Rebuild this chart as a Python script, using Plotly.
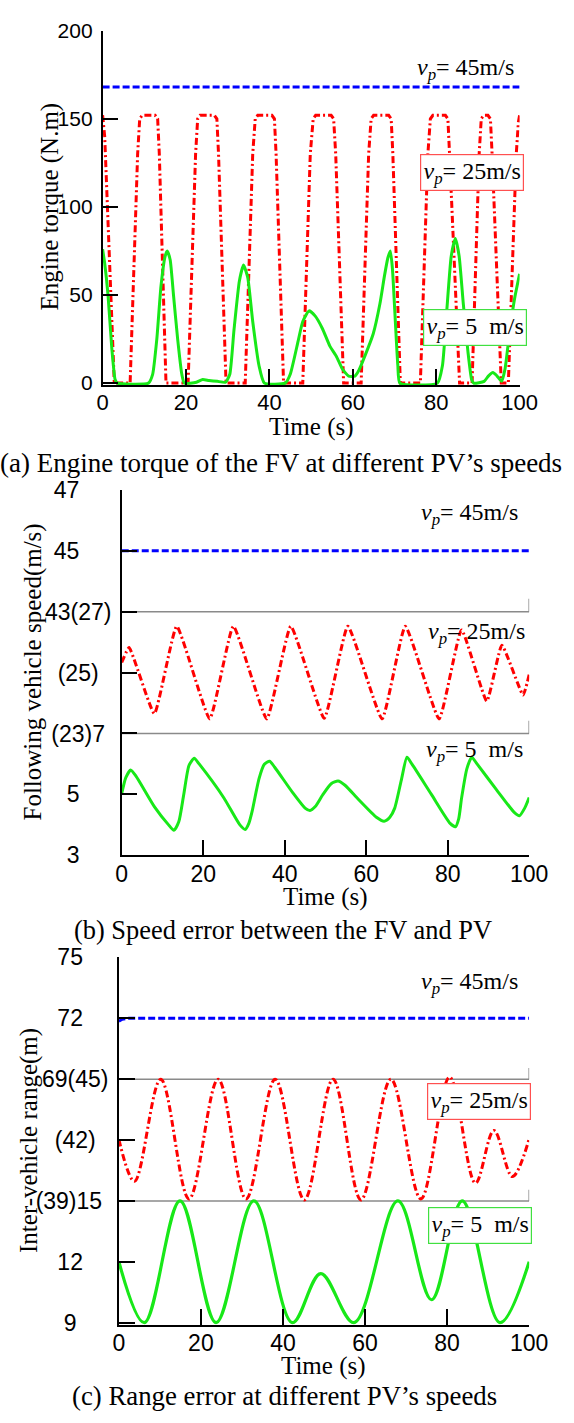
import plotly.graph_objects as go

W, H = 574, 1423

# ---------------- data ----------------
# (a) Engine torque (N.m) vs time (s)
ta_blue = [0, 100]
va_blue = [168, 168]

ta_red = [0, 0.5, 2.8, 6.6, 8.4, 8.9, 9.5, 12.6, 13.2, 13.6, 15.2,
          20.5, 22.3, 22.8, 23.4, 26.8, 27.4, 27.8, 29.6,
          34.2, 36.0, 36.6, 37.2, 40.6, 41.2, 41.6, 43.4,
          48.0, 49.8, 50.5, 51.1, 54.8, 55.4, 55.9, 57.8,
          62.0, 63.8, 64.4, 65.0, 68.6, 69.2, 69.6, 71.4,
          76.2, 78.0, 78.6, 79.2, 82.2, 82.8, 83.2, 85.6,
          88.6, 90.3, 90.8, 91.4, 92.4, 93.0, 93.4, 95.6,
          97.3, 99.2, 99.7, 100]
va_red = [152, 140, 0, 0, 130, 150, 152, 152, 150, 130, 0,
          0, 130, 150, 152, 152, 150, 130, 0,
          0, 130, 150, 152, 152, 150, 130, 0,
          0, 130, 150, 152, 152, 150, 130, 0,
          0, 130, 150, 152, 152, 150, 130, 0,
          0, 130, 150, 152, 152, 150, 130, 0,
          0, 130, 150, 152, 152, 150, 130, 0,
          0, 130, 148, 152]

ta_green = [0, 0.5, 1.3, 2.2, 3.0, 3.5, 11.0, 12.0, 13.0, 14.0, 15.0, 15.5, 16.2, 17.0, 18.0, 19.0, 19.6,
            22.5, 24.0, 25.5, 27.5, 29.5, 30.5, 31.5, 32.8, 33.8, 34.8, 36.0, 37.5, 38.8,
            43.8, 45.0, 46.9, 48.0, 49.5, 51.0, 52.7, 54.5, 56.1, 57.5, 59.0, 60.5, 61.4, 63.0,
            64.9, 66.5, 67.6, 68.4, 69.0, 69.5, 70.2, 70.8, 71.3,
            80.3, 81.5, 82.5, 83.6, 84.6, 85.5, 86.5, 87.6, 88.5, 89.0,
            91.5, 92.5, 93.6, 94.6, 95.7, 96.5, 97.6, 98.8, 100]
va_green = [76, 68, 50, 20, 2, 0, 0, 5, 25, 55, 72, 75, 70, 50, 25, 5, 0,
            0.5, 2, 1.5, 1, 0.5, 5, 30, 58, 67, 60, 35, 10, 0,
            0, 5, 24, 35, 41, 38, 31, 21, 15, 8, 4, 4, 7, 16,
            28, 45, 61, 71, 75, 65, 35, 10, 0,
            0, 10, 40, 72, 82, 72, 45, 18, 2, 0,
            1, 4, 6, 4, 1, 8, 29, 48, 62]

# (b) Following vehicle speed (m/s) vs time (s)
tb_blue = [0, 100]
vb_blue = [45, 45]

tb_red = [0, 1.8, 8.0, 13.5, 21.6, 27.4, 35.6, 41.5, 49.7, 55.5, 63.9, 69.6, 77.9, 83.4, 89.6, 93.3, 98.5, 100]
vb_red = [25.33, 25.82, 23.65, 26.52, 23.48, 26.52, 23.48, 26.52, 23.5, 26.52, 23.48, 26.52, 23.48, 26.4,
          24.06, 25.9, 24.26, 24.93]

tb_green = [0, 1.0, 2.2, 3.5, 8.0, 11.5, 12.8, 14.0, 15.2, 16.5, 17.8, 19.0, 25.0, 29.0,
            30.3, 31.2, 32.0, 33.7, 35.0, 36.3, 37.5, 42.0, 45.0, 46.2, 47.5, 49.3, 51.4, 53.1,
            54.8, 58.0, 62.5, 64.4, 65.8, 67.0, 68.7, 70.0, 71.2, 76.0, 80.6, 81.9, 82.7, 83.4,
            84.7, 85.9, 87.2, 92.0, 96.4, 97.6, 98.9, 100]
vb_green = [5.03, 5.55, 5.8, 5.6, 4.6, 4.0, 3.82, 4.1, 4.98, 5.95, 6.19, 6.0, 4.9, 4.0,
            3.85, 4.05, 4.44, 5.52, 5.99, 6.09, 5.9, 5.05, 4.55, 4.47, 4.6, 4.98, 5.35, 5.44,
            5.3, 4.85, 4.25, 4.12, 4.25, 4.55, 5.52, 6.22, 6.0, 5.0, 4.05, 3.94, 4.2, 4.87,
            5.84, 6.22, 6.0, 5.15, 4.4, 4.3, 4.55, 4.9]

# (c) Inter-vehicle range (m) vs time (s)
tc_blue = [0, 0.8, 2.0, 100]
vc_blue = [71.85, 71.95, 72.0, 72.0]

tc_red = [0, 3.8, 10.2, 17.1, 24.2, 31.0, 38.1, 45.2, 52.2, 59.0, 66.3, 73.6, 80.6, 86.9, 91.4, 95.9, 100]
vc_red = [42.03, 39.97, 45.0, 39.1, 45.0, 39.1, 45.0, 39.05, 45.0, 39.05, 45.0, 39.1, 45.1, 39.88, 42.47,
          40.2, 42.06]

tc_green = [0, 6.2, 14.9, 23.7, 32.9, 42.3, 49.2, 57.3, 68.0, 76.2, 83.7, 92.9, 100]
vc_green = [12.0, 9.0, 15.0, 9.0, 15.0, 9.0, 11.42, 9.0, 15.0, 10.13, 15.0, 9.0, 12.0]

x_ticks = [0, 20, 40, 60, 80, 100]
a_yticks = [0, 50, 100, 150, 200]

# band layout of stacked axes (b) and (c): [bottom(5 m/s), middle(25 m/s), top(45 m/s)]
b_band_base = [3, 23, 43]      # real value at bottom of each band
b_band_size = 4
b_tickvals = [3, 5, 7, 9, 11, 13, 15]
b_ticktext = ["3", "5", "(23)7", "(25)", "43(27)", "45", "47"]
c_band_base = [9, 39, 69]
c_band_size = 6
c_tickvals = [9, 12, 15, 18, 21, 24, 27]
c_ticktext = ["9", "12", "(39)15", "(42)", "69(45)", "72", "75"]

NB = "\u00a0"
b_pad = [5, 5, 1, 2, 0, 5, 5]
c_pad = [5, 4, 1, 2, 0, 4, 4]

# ---------------- styling ----------------
RED = "#ff0000"
GREEN = "#18e818"
BLUE = "#0000ff"
TICKFONT = "Liberation Sans, Arial, sans-serif"
SERIF = "Liberation Serif, Times New Roman, serif"


def disp(vals, band, bases, size):
    off = bases[0] + band * size - bases[band]
    return [v + off for v in vals]


def px_x(p):
    return p / W


def px_y(p):
    return 1 - p / H


fig = go.Figure()

# panel (a)
fig.add_trace(go.Scatter(x=ta_blue, y=va_blue, mode="lines", xaxis="x", yaxis="y",
                         line=dict(color=BLUE, width=3, dash="7px,3px")))
fig.add_trace(go.Scatter(x=ta_red, y=va_red, mode="lines", xaxis="x", yaxis="y",
                         line=dict(color=RED, width=3, dash="7px,3px,2px,3px")))
fig.add_trace(go.Scatter(x=ta_green, y=va_green, mode="lines", xaxis="x", yaxis="y",
                         line=dict(color=GREEN, width=3, shape="spline", smoothing=0.5)))

# panel (b)
fig.add_trace(go.Scatter(x=tb_blue, y=disp(vb_blue, 2, b_band_base, b_band_size), mode="lines",
                         xaxis="x2", yaxis="y2", line=dict(color=BLUE, width=3, dash="7px,3px")))
fig.add_trace(go.Scatter(x=tb_red, y=disp(vb_red, 1, b_band_base, b_band_size), mode="lines",
                         xaxis="x2", yaxis="y2",
                         line=dict(color=RED, width=3, dash="7px,3px,2px,3px", shape="spline", smoothing=0.4)))
fig.add_trace(go.Scatter(x=tb_green, y=disp(vb_green, 0, b_band_base, b_band_size), mode="lines",
                         xaxis="x2", yaxis="y2",
                         line=dict(color=GREEN, width=3, shape="spline", smoothing=0.6)))

# panel (c)
fig.add_trace(go.Scatter(x=tc_blue, y=disp(vc_blue, 2, c_band_base, c_band_size), mode="lines",
                         xaxis="x3", yaxis="y3", line=dict(color=BLUE, width=3, dash="7px,3px")))
fig.add_trace(go.Scatter(x=tc_red, y=disp(vc_red, 1, c_band_base, c_band_size), mode="lines",
                         xaxis="x3", yaxis="y3",
                         line=dict(color=RED, width=3, dash="7px,3px,2px,3px", shape="spline", smoothing=1)))
fig.add_trace(go.Scatter(x=tc_green, y=disp(vc_green, 0, c_band_base, c_band_size), mode="lines",
                         xaxis="x3", yaxis="y3",
                         line=dict(color=GREEN, width=3.2, shape="spline", smoothing=1)))

# geometry (pixels)
A = dict(l=101, r=537, top=18, bot=378.8, ymin=-1, ymax=200)
B = dict(l=121, r=547, top=485.7, bot=858, ymin=3, ymax=15)
C = dict(l=118, r=547, top=962, bot=1336.1, ymin=8.9, ymax=27)

axis_common = dict(showline=True, linecolor="black", linewidth=1.5, ticks="inside", ticklen=16,
                   tickwidth=1.5, tickcolor="black", showgrid=False, zeroline=False, mirror=False)


def xax(G, anchor, size):
    return dict(axis_common, domain=[px_x(G["l"]), px_x(G["r"])], range=[0, 100], anchor=anchor,
                tickvals=x_ticks, ticktext=[str(v) for v in x_ticks], ticklabelstandoff=-3,
                tickfont=dict(family=TICKFONT, size=size, color="black"))


def yax(G, anchor, vals, text, size):
    return dict(axis_common, domain=[px_y(G["bot"]), px_y(G["top"])], range=[G["ymin"], G["ymax"]],
                anchor=anchor, tickvals=vals, ticktext=text, ticklabelstandoff=4,
                tickfont=dict(family=TICKFONT, size=size, color="black"))


fig.update_layout(
    width=W, height=H, margin=dict(l=0, r=0, t=0, b=0),
    paper_bgcolor="white", plot_bgcolor="white", showlegend=False,
    xaxis=xax(A, "y", 22),
    yaxis=yax(A, "x", a_yticks, [str(v) for v in a_yticks], 21),
    xaxis2=xax(B, "y2", 23),
    yaxis2=yax(B, "x2", b_tickvals, [t + NB * p for t, p in zip(b_ticktext, b_pad)], 23),
    xaxis3=xax(C, "y3", 23),
    yaxis3=yax(C, "x3", c_tickvals, [t + NB * p for t, p in zip(c_ticktext, c_pad)], 23),
)

# gray band separators with an upward tick at the right end
shapes = []
for k in (1, 2):
    yb = b_band_base[0] + k * b_band_size
    shapes.append(dict(type="line", xref="x2", yref="y2", x0=0, x1=100, y0=yb, y1=yb,
                       line=dict(color="#8a8a8a", width=1.5), layer="below"))
    shapes.append(dict(type="line", xref="x2", yref="y2", x0=100, x1=100, y0=yb, y1=yb + 0.42,
                       line=dict(color="#8a8a8a", width=1.5), layer="below"))
    yc = c_band_base[0] + k * c_band_size
    shapes.append(dict(type="line", xref="x3", yref="y3", x0=0, x1=100, y0=yc, y1=yc,
                       line=dict(color="#8a8a8a", width=1.5), layer="below"))
    shapes.append(dict(type="line", xref="x3", yref="y3", x0=100, x1=100, y0=yc, y1=yc + 0.55,
                       line=dict(color="#8a8a8a", width=1.5), layer="below"))
fig.update_layout(shapes=shapes)

ann = []


def txt(text, x, y, size=24, angle=0, box=None):
    d = dict(text=text, x=px_x(x), y=px_y(y), xref="paper", yref="paper", showarrow=False,
             xanchor="center", yanchor="middle", textangle=angle,
             font=dict(family=SERIF, size=size, color="black"))
    if box:
        d.update(bordercolor=box, borderwidth=1.2, borderpad=2, bgcolor="white", width=98, height=31)
    ann.append(d)


def vp(speed):
    return "<i>v</i><sub><i>p</i></sub>= " + speed


# series labels
txt(vp("45m/s"), 480, 57)
txt(vp("25m/s"), 487.5, 162, box="#ff5050")
txt(vp("5" + NB + NB + "m/s"), 490.5, 320, box="#40e040")
txt(vp("45m/s"), 485, 510)
txt(vp("25m/s"), 492, 632)
txt(vp("5" + NB + NB + "m/s"), 490, 752)
txt(vp("45m/s"), 485, 988)
txt(vp("25m/s"), 495, 1109, box="#ff5050")
txt(vp("5" + NB + NB + "m/s"), 496, 1235, box="#40e040")

# axis titles
txt("Time (s)", 319, 422, 25)
txt("Time (s)", 334, 900, 25)
txt("Time (s)", 332, 1378, 25)
txt("Engine torque (N.m)", 46, 197, 25, -90)
txt("Following vehicle speed(m/s)", 28, 671, 25, -90)
txt("Inter-vehicle range(m)", 24, 1148, 25, -90)

# captions
txt("(a) Engine torque of the FV at different PV\u2019s speeds", 287, 458, 27)
txt("(b) Speed error between the FV and PV", 290, 934, 26.4)
txt("(c) Range error at different PV\u2019s speeds", 291, 1409, 26.8)

fig.update_layout(annotations=ann)

fig.write_html("out.html")
